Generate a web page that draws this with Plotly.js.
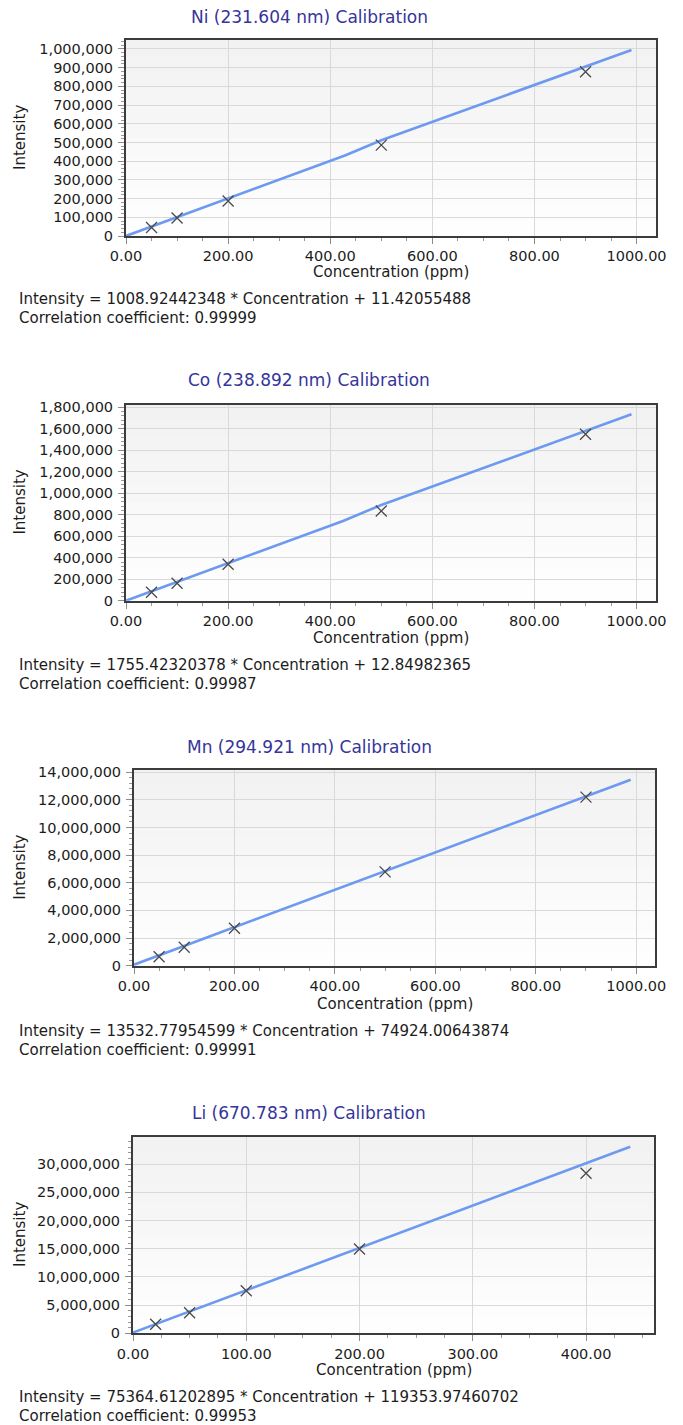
<!DOCTYPE html>
<html>
<head>
<meta charset="utf-8">
<script src="https://cdn.plot.ly/plotly-3.0.1.min.js"></script>
<style>html,body{margin:0;padding:0;background:#fff;}#chart{width:683px;height:1425px;}</style>
</head>
<body>
<div id="chart"></div>
<script>
// ---- data ----
const chartTitles = ["Ni (231.604 nm) Calibration", "Co (238.892 nm) Calibration", "Mn (294.921 nm) Calibration", "Li (670.783 nm) Calibration"];
const equations = [
  "Intensity = 1008.92442348 * Concentration + 11.42055488",
  "Intensity = 1755.42320378 * Concentration + 12.84982365",
  "Intensity = 13532.77954599 * Concentration + 74924.00643874",
  "Intensity = 75364.61202895 * Concentration + 119353.97460702"
];
const correlations = ["Correlation coefficient: 0.99999", "Correlation coefficient: 0.99987", "Correlation coefficient: 0.99991", "Correlation coefficient: 0.99953"];
const xAxisTitle = "Concentration (ppm)";
const yAxisTitle = "Intensity";

const niConc = [50, 100, 200, 500, 900];
const niInt = [45000, 96400, 187500, 485800, 878400];
const niLineX = [0, 430, 500, 990];
const niLineY = [0, 432000, 512000, 995000];

const coConc = [50, 100, 200, 500, 900];
const coInt = [78000, 162000, 339000, 835000, 1549000];
const coLineX = [0, 425, 500, 990];
const coLineY = [0, 742000, 891000, 1735000];

const mnConc = [50, 100, 200, 500, 900];
const mnInt = [650000, 1330000, 2710000, 6790000, 12200000];
const mnLineX = [0, 989];
const mnLineY = [75000, 13460000];

const liConc = [20, 50, 100, 200, 400];
const liInt = [1600000, 3650000, 7550000, 14950000, 28370000];
const liLineX = [0, 439];
const liLineY = [120000, 33090000];

const xMax = [1038, 1038, 1038, 460];
const yMax = [1048000, 1826000, 14160000, 34860000];
const xDtick = [200, 200, 200, 100];
const xMinor = [50, 50, 50, 25];
const yDtick = [100000, 200000, 2000000, 5000000];
const yMinor = [20000, 40000, 400000, 1000000];

// ---- layout geometry (pixels) ----
const W = 683, H = 1425;
const boxes = [
  {l: 126, r: 656, t: 40, b: 236, title: 17, xt: 272, eq: 299},
  {l: 126, r: 656, t: 404.5, b: 600.7, title: 380, xt: 638, eq: 665},
  {l: 134, r: 655.3, t: 770, b: 965.7, title: 747, xt: 1004, eq: 1031},
  {l: 133, r: 654, t: 1136.7, b: 1333.3, title: 1113, xt: 1370, eq: 1397}
];
const fx = p => p / W;
const fy = p => 1 - p / H;

const FONT = "DejaVu Sans";
const series = [
  [niConc, niInt, niLineX, niLineY],
  [coConc, coInt, coLineX, coLineY],
  [mnConc, mnInt, mnLineX, mnLineY],
  [liConc, liInt, liLineX, liLineY]
];

const traces = [];
const layout = {
  width: W, height: H,
  margin: {l: 0, r: 0, t: 0, b: 0},
  paper_bgcolor: "#ffffff",
  plot_bgcolor: "#f8f8f8",
  showlegend: false,
  annotations: [],
  shapes: []
};

series.forEach((s, i) => {
  const n = i === 0 ? "" : String(i + 1);
  const bx = boxes[i];
  traces.push({
    x: s[2], y: s[3], xaxis: "x" + n, yaxis: "y" + n,
    type: "scatter", mode: "lines",
    line: {color: "#6d9af0", width: 2.6},
    hoverinfo: "skip"
  });
  traces.push({
    x: s[0], y: s[1], xaxis: "x" + n, yaxis: "y" + n,
    type: "scatter", mode: "markers",
    marker: {symbol: "x-thin-open", size: 11, color: "#4a4a4a", line: {color: "#4a4a4a", width: 1.3}},
    hoverinfo: "skip"
  });
  const common = {
    showline: true, linecolor: "#3c3c3c", linewidth: 2, mirror: true,
    showgrid: true, gridcolor: "#d9d9d9", gridwidth: 1, zeroline: false,
    ticks: "outside", ticklen: 6, tickcolor: "#8c8c8c", tickwidth: 1,
    tickfont: {family: FONT, size: 14.5, color: "#1c1c1c"},
    fixedrange: true
  };
  layout["xaxis" + n] = Object.assign({}, common, {
    domain: [fx(bx.l), fx(bx.r)], anchor: "y" + n,
    range: [0, xMax[i]], tick0: 0, dtick: xDtick[i], tickformat: ".2f",
    minor: {dtick: xMinor[i], ticks: "outside", ticklen: 3, tickcolor: "#9a9a9a", showgrid: false}
  });
  layout["yaxis" + n] = Object.assign({}, common, {
    domain: [fy(bx.b), fy(bx.t)], anchor: "x" + n,
    range: [0, yMax[i]], tick0: 0, dtick: yDtick[i], tickformat: ",d",
    ticklabelstandoff: 2,
    minor: {dtick: yMinor[i], ticks: "outside", ticklen: 3, tickcolor: "#9a9a9a", showgrid: false}
  });
  // background gradient bands
  const bands = 12;
  for (let k = 0; k < bands; k++) {
    const c = Math.round(254 - (k / (bands - 1)) * 12);
    layout.shapes.push({
      type: "rect", xref: "x" + n + " domain", yref: "y" + n + " domain",
      x0: 0, x1: 1, y0: k / bands, y1: (k + 1) / bands,
      fillcolor: `rgb(${c},${c},${c})`, line: {width: 0}, layer: "below"
    });
  }
  const ann = (text, x, y, opts) => layout.annotations.push(Object.assign({
    text: text, x: x, y: y, xref: "paper", yref: "paper", showarrow: false,
    xanchor: "center", yanchor: "middle",
    font: {family: FONT, size: 15, color: "#1c1c1c"}
  }, opts || {}));
  ann(chartTitles[i], fx(309), fy(bx.title), {font: {family: FONT, size: 17, color: "#35359a"}});
  ann(xAxisTitle, fx((bx.l + bx.r) / 2), fy(bx.xt));
  ann(yAxisTitle, fx(20), fy((bx.t + bx.b) / 2), {textangle: -90});
  ann(equations[i], fx(17), fy(bx.eq), {xanchor: "left"});
  ann(correlations[i], fx(17), fy(bx.eq + 19), {xanchor: "left"});
});

Plotly.newPlot("chart", traces, layout, {staticPlot: true, displayModeBar: false});
</script>
</body>
</html>
